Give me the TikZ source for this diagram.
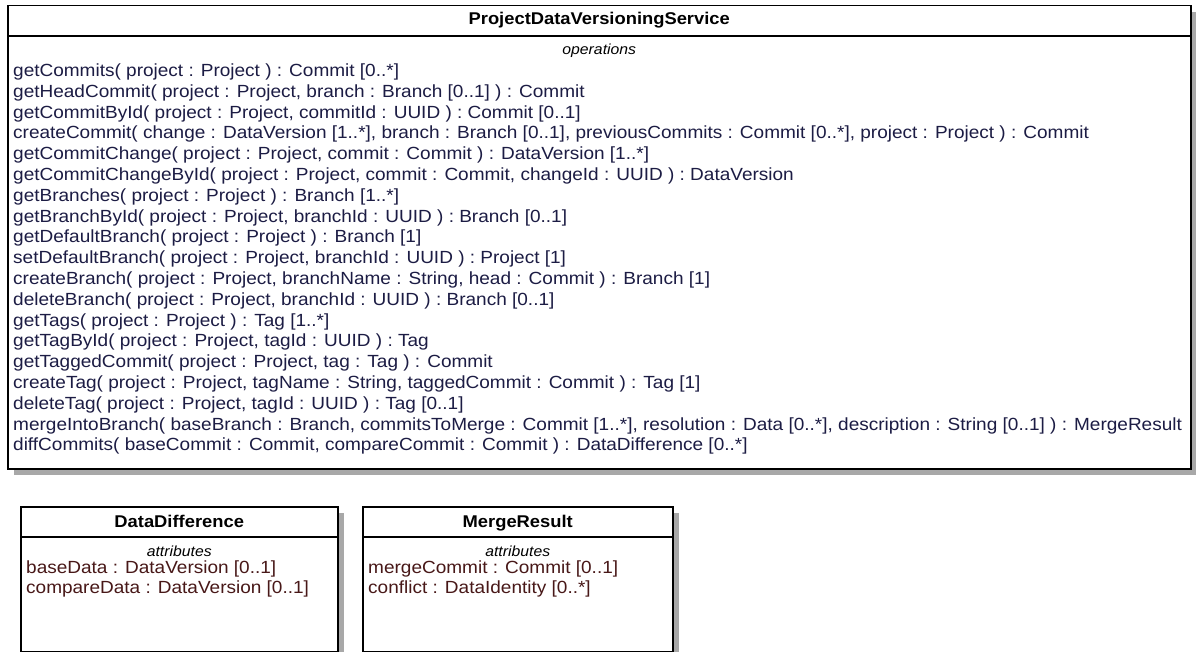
\documentclass[tikz,border=0pt]{standalone}
\usepackage{fontspec}
\setmainfont{Liberation Sans}[FakeStretch=1.08]
\usepackage{tikz}
\usetikzlibrary{shadows}
\definecolor{opnavy}{RGB}{28, 28, 68}
\definecolor{attrbrown}{RGB}{72, 24, 24}
\definecolor{shadowgray}{RGB}{168, 168, 168}

\begin{document}
\begin{tikzpicture}[
    x=1pt, y=-1pt,
    classbox/.style={draw, fill=white, line width=1.5pt, anchor=north west,
                     inner sep=0pt,
                     drop shadow={shadow xshift=6pt, shadow yshift=-6pt,
                                  fill=shadowgray, opacity=1}},
    sepline/.style={line width=1.5pt},
    cname/.style={font=\fontsize{17}{20}\selectfont\bfseries, anchor=base,
                  inner sep=0pt},
    compart/.style={font=\fontsize{14.6}{17}\selectfont\itshape, anchor=base,
                    inner sep=0pt},
    member/.style={font=\fontsize{17.6}{20.8}\selectfont, anchor=base west,
                   inner sep=0pt},
  ]
    \useasboundingbox (0,0) rectangle (1196,652);

    % Service class (top)
    \node[classbox, minimum width=1183pt, minimum height=463pt] (svc) at (7,5) {};
    \draw[sepline] ([yshift=-31pt]svc.north west) -- ([yshift=-31pt]svc.north east);
    \node[cname] (svctitle) at ([yshift=-20pt]svc.north) {ProjectDataVersioningService};
    \node[compart] (svcops) at ([yshift=-50pt]svc.north) {operations};
    \foreach \op [count=\i from 0] in {
      {getCommits( project : Project ) : Commit [0..*]},
      {getHeadCommit( project : Project, branch : Branch [0..1] ) : Commit},
      {getCommitById( project : Project, commitId : UUID ) : Commit [0..1]},
      {createCommit( change : DataVersion [1..*], branch : Branch [0..1], previousCommits : Commit [0..*], project : Project ) : Commit},
      {getCommitChange( project : Project, commit : Commit ) : DataVersion [1..*]},
      {getCommitChangeById( project : Project, commit : Commit, changeId : UUID ) : DataVersion},
      {getBranches( project : Project ) : Branch [1..*]},
      {getBranchById( project : Project, branchId : UUID ) : Branch [0..1]},
      {getDefaultBranch( project : Project ) : Branch [1]},
      {setDefaultBranch( project : Project, branchId : UUID ) : Project [1]},
      {createBranch( project : Project, branchName : String, head : Commit ) : Branch [1]},
      {deleteBranch( project : Project, branchId : UUID ) : Branch [0..1]},
      {getTags( project : Project ) : Tag [1..*]},
      {getTagById( project : Project, tagId : UUID ) : Tag},
      {getTaggedCommit( project : Project, tag : Tag ) : Commit},
      {createTag( project : Project, tagName : String, taggedCommit : Commit ) : Tag [1]},
      {deleteTag( project : Project, tagId : UUID ) : Tag [0..1]},
      {mergeIntoBranch( baseBranch : Branch, commitsToMerge : Commit [1..*], resolution : Data [0..*], description : String [0..1] ) : MergeResult},
      {diffCommits( baseCommit : Commit, compareCommit : Commit ) : DataDifference [0..*]}}
      \node[member, text=opnavy] (op\i) at (13, 76.5+20.8*\i) {\op};

    % DataDifference (bottom left)
    \node[classbox, minimum width=317pt, minimum height=145pt] (diff) at (20,506) {};
    \draw[sepline] ([yshift=-31pt]diff.north west) -- ([yshift=-31pt]diff.north east);
    \node[cname] (difftitle) at ([yshift=-21pt]diff.north) {DataDifference};
    \node[compart] (diffattr) at ([yshift=-50pt]diff.north) {attributes};
    \node[member, text=attrbrown] (diffbase) at (26,573.5) {baseData : DataVersion [0..1]};
    \node[member, text=attrbrown] (diffcmp) at (26,593.5) {compareData : DataVersion [0..1]};

    % MergeResult (bottom middle)
    \node[classbox, minimum width=310pt, minimum height=145pt] (merge) at (362,506) {};
    \draw[sepline] ([yshift=-31pt]merge.north west) -- ([yshift=-31pt]merge.north east);
    \node[cname] (mergetitle) at ([yshift=-21pt]merge.north) {MergeResult};
    \node[compart] (mergeattr) at ([yshift=-50pt]merge.north) {attributes};
    \node[member, text=attrbrown] (mergecommit) at (368,573.5) {mergeCommit : Commit [0..1]};
    \node[member, text=attrbrown] (mergeconf) at (368,593.5) {conflict : DataIdentity [0..*]};
  \end{tikzpicture}
\end{document}
